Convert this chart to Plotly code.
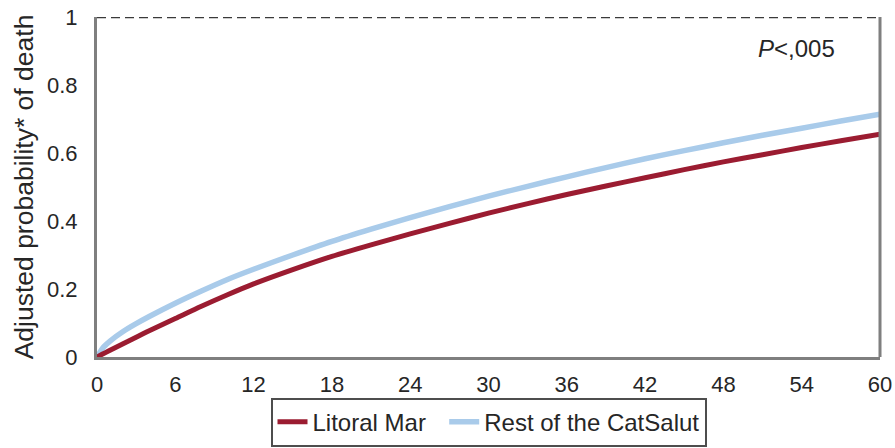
import plotly.graph_objects as go

# Months of follow-up and adjusted probability of death per group
months_litoral = [0, 1, 2, 3, 4, 6, 8, 10, 12, 15, 18, 21, 24, 27, 30, 33, 36, 39, 42, 45, 48, 51, 54, 57, 60]
prob_litoral = [0, 0.020, 0.039, 0.058, 0.077, 0.113, 0.149, 0.183, 0.215, 0.257, 0.296, 0.330, 0.362,
                0.393, 0.423, 0.451, 0.478, 0.503, 0.527, 0.551, 0.574, 0.595, 0.616, 0.636, 0.655]

months_rest = [0, 0.5, 1, 2, 3, 4, 6, 8, 10, 12, 15, 18, 21, 24, 27, 30, 33, 36, 39, 42, 45, 48, 51, 54, 57, 60]
prob_rest = [0, 0.029, 0.047, 0.075, 0.098, 0.119, 0.158, 0.194, 0.228, 0.258, 0.300, 0.340, 0.376, 0.410,
             0.442, 0.473, 0.502, 0.530, 0.557, 0.583, 0.607, 0.630, 0.652, 0.673, 0.694, 0.714]

x_ticks = [0, 6, 12, 18, 24, 30, 36, 42, 48, 54, 60]
y_ticks = [0, 0.2, 0.4, 0.6, 0.8, 1]
y_tick_labels = ["0", "0.2", "0.4", "0.6", "0.8", "1"]

series_names = ["Litoral Mar", "Rest of the CatSalut"]
p_value_text = "<i>P</i><,005"

FONT = "Liberation Sans, Arial, sans-serif"
TEXT = "#262626"
FRAME = "#7f7f7f"
GAP = "\u00a0" * 2  # extra room between the two legend entries

fig = go.Figure()
# blue first so the red curve sits on top
fig.add_trace(go.Scatter(
    x=months_rest, y=prob_rest, mode="lines", name=series_names[1], legendrank=2,
    line=dict(color="#a9cbea", width=5.5, shape="spline", smoothing=0.8),
))
fig.add_trace(go.Scatter(
    x=months_litoral, y=prob_litoral, mode="lines", name=series_names[0] + GAP, legendrank=1,
    line=dict(color="#9b1c31", width=5, shape="spline", smoothing=0.8),
))

fig.update_layout(
    width=895, height=448,
    margin=dict(l=97, r=15, t=17, b=91),
    paper_bgcolor="white", plot_bgcolor="white",
    font=dict(family=FONT, color=TEXT, size=22),
    showlegend=True,
    legend=dict(
        orientation="h", x=0.5, xanchor="center",
        yref="container", y=0.003, yanchor="bottom",
        font=dict(size=24, color=TEXT), bordercolor="#4d4d4d", borderwidth=2,
        itemwidth=30, bgcolor="white",
    ),
    xaxis=dict(
        range=[0, 60], tickvals=x_ticks, showgrid=False, zeroline=False,
        showline=True, linecolor=FRAME, linewidth=3, ticks="", automargin=False,
        tickfont=dict(size=22, color=TEXT), ticklabelstandoff=6,
    ),
    yaxis=dict(
        range=[0, 1], tickvals=y_ticks, ticktext=y_tick_labels, showgrid=False,
        zeroline=False, showline=True, linecolor=FRAME, linewidth=3, ticks="",
        automargin=False, tickfont=dict(size=22, color=TEXT), ticklabelstandoff=12,
        title=dict(text="Adjusted probability* of death", font=dict(size=26.5, color=TEXT), standoff=6),
    ),
)

# right frame edge and dashed upper limit at probability 1
fig.add_shape(type="line", xref="paper", yref="paper", x0=1, x1=1, y0=0, y1=1,
              line=dict(color=FRAME, width=3))
fig.add_shape(type="line", xref="paper", yref="y", x0=0, x1=1, y0=1, y1=1,
              line=dict(color="#3a3a3a", width=2.5, dash="9px,5px"))

fig.add_annotation(x=53.6, y=0.907, xref="x", yref="y", text=p_value_text,
                   showarrow=False, font=dict(size=24, color=TEXT))

fig.write_html("out.html")
